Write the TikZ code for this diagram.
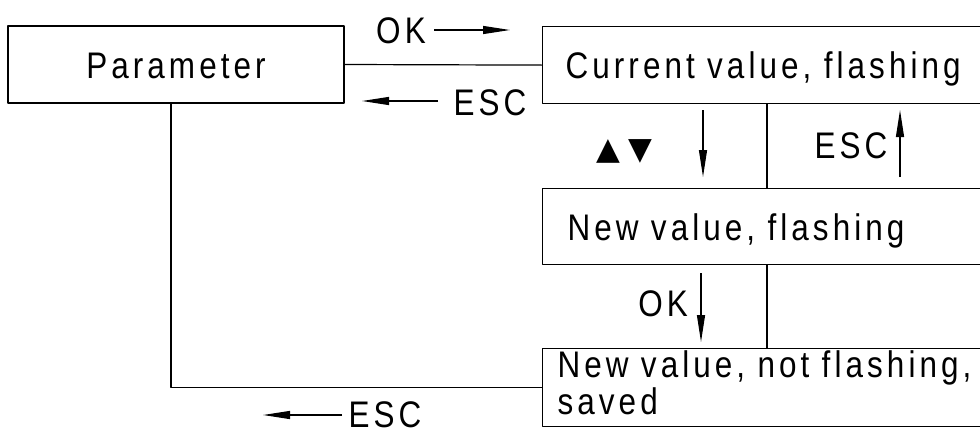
\documentclass[tikz,border=0pt]{standalone}
\usepackage{fontspec}
\setmainfont{Liberation Sans}[FakeStretch=0.85,LetterSpace=11]
\newfontfamily\symfont{DejaVu Sans}
\newcommand\menufont{\fontsize{37}{37}\selectfont\fontdimen2\font=15pt\relax}
\usetikzlibrary{arrows.meta}
\begin{document}
\begin{tikzpicture}[x=1pt, y=-1pt, line join=round, line width=1.2pt,
	box/.style={draw, minimum height=77pt, inner ysep=0pt, text height=27pt, text depth=0pt},
	state/.style={box, anchor=north west, text width=480pt, align=left},
	lbl/.style={inner sep=0pt, text height=27pt, text depth=0pt},
	arr/.style={-{Triangle[length=27pt,width=8pt]}},
	font=\menufont]
	\useasboundingbox (0,0) rectangle (980,434);
	\clip (0,0) rectangle (980,434);
	% boxes
	\node[box, minimum width=336pt] (par) at (176,64.5) {Parameter};
	\node[state, inner xsep=23pt] (cur) at (542,26) {Current value, flashing};
	\node[state, inner xsep=25pt, minimum height=76pt] (new) at (542,188) {New value, flashing};
	\node[state, inner xsep=15pt, minimum height=78pt, text depth=48pt] (sav) at (542,348) {New value, not flashing,\\saved};
	% links
	\draw (par.east) -- (cur.west);
	\draw ([xshift=-5pt]par.south) |- (sav.west);
	\draw ([xshift=225pt]cur.south west) -- ([xshift=225pt]new.north west);
	\draw ([xshift=225pt]new.south west) -- ([xshift=225pt]sav.north west);
	% keys
	\node[lbl] (ok1) at (401,30) {OK};
	\node[lbl] (esc1) at (490,102) {ESC};
	\node[lbl] (keys) at (624,146) {\symfont\fontsize{31}{31}\selectfont ▲\hspace{8pt}▼};
	\node[lbl] (esc2) at (851,145) {ESC};
	\node[lbl] (ok2) at (663,303) {OK};
	\node[lbl] (esc3) at (385,414) {ESC};
	\coordinate (a1) at (434,30);  \coordinate (b1) at (510,30);
	\coordinate (a2) at (438,101); \coordinate (b2) at (362,101);
	\coordinate (a3) at (703,110); \coordinate (b3) at (703,177);
	\coordinate (a4) at (900,177); \coordinate (b4) at (900,110);
	\coordinate (a5) at (701,273); \coordinate (b5) at (701,342);
	\coordinate (a6) at (342,415); \coordinate (b6) at (263,415);
	\foreach \i in {1,...,6} \draw[arr] (a\i) -- (b\i);
\end{tikzpicture}
\end{document}
